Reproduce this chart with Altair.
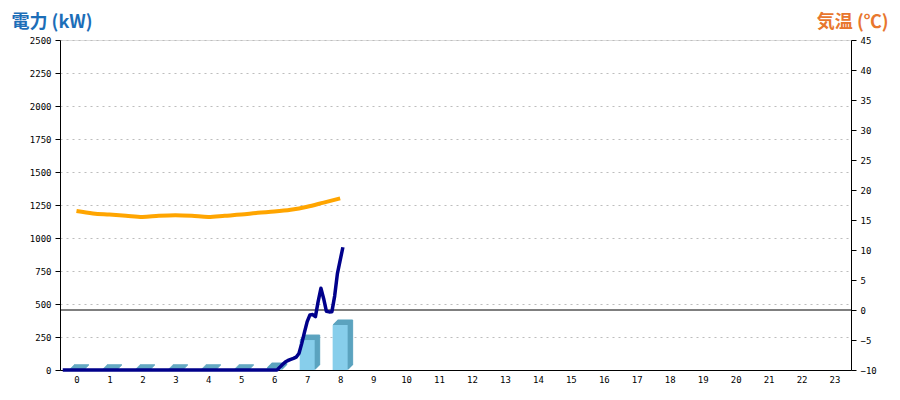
import altair as alt
import pandas as pd

# ---- data ----
hours = list(range(24))
bar_hours = [0, 1, 2, 3, 4, 5, 6, 7, 8]
bar_kw = [0, 0, 0, 0, 0, 0, 15, 227, 341]

# 5-minute power readings from 0:05 to 8:35 (kW)
power_kw = [
    0, 0, 0, 0, 0, 0, 0, 0, 0, 0, 0, 0,
    0, 0, 0, 0, 0, 0, 0, 0, 0, 0, 0, 0,
    0, 0, 0, 0, 0, 0, 0, 0, 0, 0, 0, 0,
    0, 0, 0, 0, 0, 0, 0, 0, 0, 0, 0, 0,
    0, 0, 0, 0, 0, 0, 0, 0, 0, 0, 0, 0,
    0, 0, 0, 0, 0, 0, 0, 0, 0, 0, 0, 0,
    0, 0, 0, 0, 0, 0, 0,
    20, 42, 60, 72, 80, 88, 98, 125, 200, 285, 366, 417,
    420, 404, 520, 619, 540, 445, 440, 442, 560, 730, 830, 930,
]
power_time = [(i + 1) * 5 / 60 for i in range(len(power_kw))]

# temperature every 30 min from 0:30 to 8:30 (deg C)
temp_c = [16.5, 16.1, 15.9, 15.7, 15.5, 15.7, 15.8, 15.7, 15.5,
          15.7, 15.9, 16.2, 16.4, 16.7, 17.2, 17.9, 18.6]
temp_time = [0.5 + 0.5 * i for i in range(len(temp_c))]

bars = pd.DataFrame({"hour": bar_hours, "kw": bar_kw})
power = pd.DataFrame({"t": power_time, "kw": power_kw})
temps = pd.DataFrame({"t": temp_time, "temp": temp_c})
zero_line = pd.DataFrame({"temp": [0]})

FRONT = "#87CEEB"
SIDE = "#5BA3BF"
LABEL_FONT = "DejaVu Sans Mono"
TITLE_FONT = "Noto Sans CJK JP"

x_scale = alt.Scale(domain=[0, 24], nice=False, zero=False, padding=0)
x_axis = alt.Axis(
    values=[h + 0.5 for h in hours],
    labelExpr="floor(datum.value)",
    ticks=False, grid=False, title=None,
    domainColor="black", domainWidth=1,
    labelFont=LABEL_FONT, labelFontSize=9, labelColor="black",
    labelPadding=5,
)

power_scale = alt.Scale(domain=[0, 2500], nice=False, padding=0)
temp_scale = alt.Scale(domain=[-10, 45], nice=False, zero=False, padding=0)

power_axis = alt.Axis(
    orient="left",
    values=list(range(0, 2501, 250)),
    format="d",
    tickSize=5, tickColor="black", domainColor="black",
    labelFont=LABEL_FONT, labelFontSize=9, labelColor="black", labelPadding=4,
    grid=True, gridColor="#bdbdbd", gridDash=[2, 4], gridWidth=1,
    title="電力 (kW)", titleAngle=0, titleAlign="left", titleBaseline="alphabetic",
    titleX=-49, titleY=-13, titleFont=TITLE_FONT, titleFontSize=18,
    titleFontWeight="bold", titleColor="#1C6EB8",
)

temp_axis = alt.Axis(
    orient="right",
    values=list(range(-10, 46, 5)),
    format="d",
    tickSize=5, tickColor="black", domainColor="black",
    labelFont=LABEL_FONT, labelFontSize=9, labelColor="black", labelPadding=4,
    grid=False,
    title="気温 (℃)", titleAngle=0, titleAlign="right", titleBaseline="alphabetic",
    titleX=37, titleY=-13, titleFont=TITLE_FONT, titleFontSize=18,
    titleFontWeight="bold", titleColor="#E8772E",
)

# --- power group: 3D-looking bars + 5-min line ---
depth_layers = []
for k in range(1, 6):
    depth_layers.append(
        alt.Chart(bars).mark_bar(
            width=15, color=SIDE, stroke=SIDE, strokeWidth=1,
            xOffset=k, yOffset=-k,
        ).encode(
            x=alt.X("hour_c:Q", scale=x_scale, axis=x_axis),
            y=alt.Y("kw:Q", scale=power_scale, axis=power_axis),
        ).transform_calculate(hour_c="datum.hour + 0.5")
    )

front = alt.Chart(bars).mark_bar(width=15, color=FRONT).encode(
    x=alt.X("hour_c:Q", scale=x_scale, axis=x_axis),
    y=alt.Y("kw:Q", scale=power_scale, axis=power_axis),
).transform_calculate(hour_c="datum.hour + 0.5")

power_line = alt.Chart(power).mark_line(
    color="#00008B", strokeWidth=3.5, strokeJoin="round"
).encode(
    x=alt.X("t:Q", scale=x_scale, axis=x_axis),
    y=alt.Y("kw:Q", scale=power_scale, axis=power_axis),
)

power_group = alt.layer(*depth_layers, front, power_line)

# --- temperature group: 0 deg rule and temperature line ---
rule0 = alt.Chart(zero_line).mark_rule(color="black", strokeWidth=1).encode(
    y=alt.Y("temp:Q", scale=temp_scale, axis=temp_axis),
)

temp_line = alt.Chart(temps).mark_line(
    color="#FFA500", strokeWidth=4, interpolate="monotone"
).encode(
    x=alt.X("t:Q", scale=x_scale, axis=x_axis),
    y=alt.Y("temp:Q", scale=temp_scale, axis=None),
)

chart = alt.layer(rule0, power_group, temp_line).resolve_scale(
    y="independent"
).properties(
    width=791, height=330,
    autosize=alt.AutoSizeParams(type="none"),
    padding={"left": 52, "top": 32, "right": 41, "bottom": 22},
).configure_view(stroke=None).configure(background="white")

chart.save("out.html", embed_options={"renderer": "svg", "actions": False})
